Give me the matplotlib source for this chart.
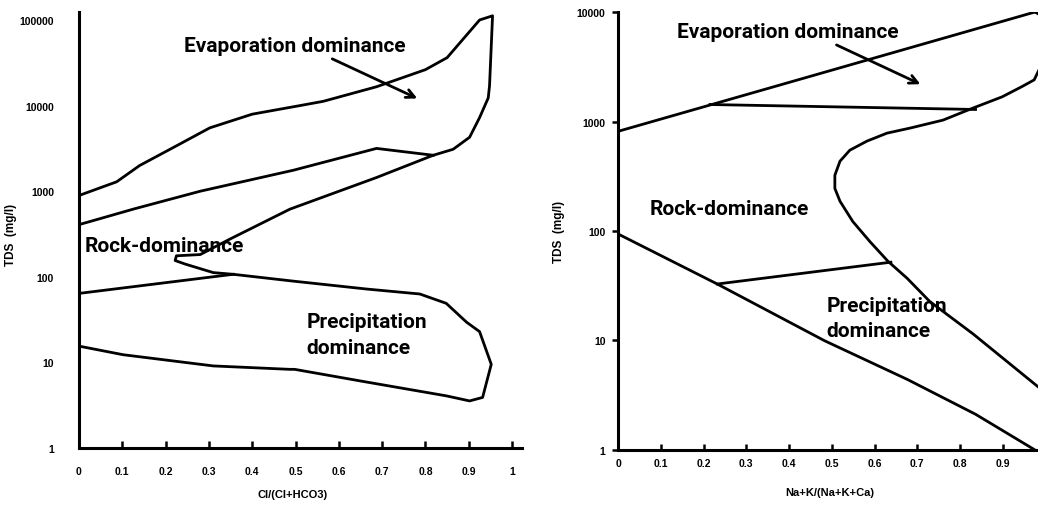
import matplotlib
matplotlib.use("Agg")
import matplotlib.pyplot as plt

plt.rcParams['font.family'] = ['Liberation Sans', 'DejaVu Sans']
plt.rcParams['font.weight'] = 'bold'

# ---------------------- Data: Cl/(Cl+HCO3) panel ----------------------
cl_outline_x = [0, 0.087, 0.14, 0.225, 0.302, 0.40, 0.51, 0.564, 0.687, 0.80, 0.85, 0.925, 0.955,
                0.948, 0.945, 0.925, 0.902, 0.864, 0.818, 0.687, 0.487, 0.348, 0.28, 0.225, 0.222,
                0.245, 0.31, 0.356, 0.495, 0.664, 0.787, 0.848, 0.895, 0.925, 0.952, 0.932, 0.902,
                0.848, 0.664, 0.498, 0.487, 0.31, 0.102, 0]
cl_outline_tds = [891, 1288, 1995, 3388, 5495, 7943, 10000, 11220, 16600, 26300, 36300, 100000, 112000,
                  17000, 12300, 7240, 4270, 3090, 2630, 1445, 617, 275, 182, 176, 155,
                  141, 112, 107, 89, 72, 63, 49, 29.5, 22.9, 9.5, 3.9, 3.55,
                  4.07, 5.9, 8.3, 8.3, 9.1, 12.3, 15.5]
cl_mid_x = [0, 0.056, 0.125, 0.28, 0.495, 0.687, 0.818]
cl_mid_tds = [407, 490, 617, 1000, 1758, 3162, 2630]
cl_low_x = [0, 0.356]
cl_low_tds = [64, 107]

# ---------------------- Data: Na+K/(Na+K+Ca) panel ----------------------
na_upper_x = [0, 0.975]
na_upper_tds = [813, 10000]
na_curve_x = [0.975, 0.985, 0.993, 0.995, 0.985, 0.973, 0.945, 0.898, 0.830, 0.760, 0.683, 0.629,
              0.582, 0.542, 0.519, 0.507, 0.507, 0.519, 0.549, 0.589, 0.631, 0.676, 0.729, 0.830,
              0.985, 1.0]
na_curve_tds = [10000, 9500, 7943, 5000, 3000, 2399, 2089, 1679, 1327, 1030, 871, 783,
                662, 547, 434, 323, 245, 187, 122, 80, 53, 37, 22.7, 11.5,
                3.7, 3.3]
na_hline_x = [0.215, 0.836]
na_hline_tds = [1429, 1288]
na_lower_x = [0, 0.232, 0.483, 0.677, 0.836, 0.975]
na_lower_tds = [94, 32.8, 9.95, 4.4, 2.12, 1.0]
na_low_hline_x = [0.232, 0.638]
na_low_hline_tds = [32.8, 51.9]

cl_xticks = [0, 0.1, 0.2, 0.3, 0.4, 0.5, 0.6, 0.7, 0.8, 0.9, 1]
cl_xtick_labels = ['0', '0.1', '0.2', '0.3', '0.4', '0.5', '0.6', '0.7', '0.8', '0.9', '1']
na_xticks = [0, 0.1, 0.2, 0.3, 0.4, 0.5, 0.6, 0.7, 0.8, 0.9]
na_xtick_labels = ['0', '0.1', '0.2', '0.3', '0.4', '0.5', '0.6', '0.7', '0.8', '0.9']
cl_yticks = [1, 10, 100, 1000, 10000, 100000]
cl_ytick_labels = ['1', '10', '100', '1000', '10000', '100000']
na_yticks = [1, 10, 100, 1000, 10000]
na_ytick_labels = ['1', '10', '100', '1000', '10000']

LW = 2.0
label_kw = dict(fontsize=15, fontweight='bold', color='black', family=['Roboto', 'DejaVu Sans'])


def style_axes(ax, xt, xl, yticks, ylabels, xlim, ylim):
    ax.set_yscale('log')
    ax.set_xlim(*xlim)
    ax.set_ylim(*ylim)
    ax.set_xticks(xt)
    ax.set_xticklabels(xl, fontsize=7.5, fontweight='bold')
    ax.set_yticks(yticks)
    ax.set_yticklabels(ylabels, fontsize=7.5, fontweight='bold')
    ax.minorticks_off()
    for s in ['top', 'right']:
        ax.spines[s].set_visible(False)
    for s in ['left', 'bottom']:
        ax.spines[s].set_linewidth(2.2)
    ax.patch.set_alpha(0)


fig = plt.figure(figsize=(10.38, 5.06), dpi=100)

# ---------------------- Left panel ----------------------
ax1 = fig.add_axes([0.0761, 0.1126, 0.4268, 0.8617])
ax1.plot(cl_outline_x, cl_outline_tds, color='black', lw=LW, solid_joinstyle='round')
ax1.plot(cl_mid_x, cl_mid_tds, color='black', lw=LW)
ax1.plot(cl_low_x, cl_low_tds, color='black', lw=LW)
style_axes(ax1, cl_xticks, cl_xtick_labels, cl_yticks, cl_ytick_labels, (0, 1.023), (1, 124000))
ax1.tick_params(axis='x', direction='in', length=5, width=1.8, pad=13)
ax1.tick_params(axis='y', length=0, pad=18)
ax1.set_xlabel('Cl/(Cl+HCO3)', fontsize=8, fontweight='bold')
ax1.xaxis.set_label_coords(0.483, -0.094)
ax1.set_ylabel('TDS  (mg/l)', fontsize=8.5, fontweight='bold')
ax1.yaxis.set_label_coords(-0.14, 0.49)
ax1.text(0.498, 10**4.70, 'Evaporation dominance', ha='center', va='center', **label_kw)
ax1.text(0.196, 10**2.37, 'Rock-dominance', ha='center', va='center', **label_kw)
ax1.text(0.525, 10**1.475, 'Precipitation', ha='left', va='center', **label_kw)
ax1.text(0.525, 10**1.175, 'dominance', ha='left', va='center', **label_kw)
ax1.annotate('', xy=(0.787, 10**4.07), xytext=(0.579, 10**4.56),
             arrowprops=dict(arrowstyle='->,head_length=0.6,head_width=0.3', lw=2.0, color='black'))

# ---------------------- Right panel ----------------------
ax2 = fig.add_axes([0.5954, 0.1087, 0.4046, 0.8656])
ax2.plot(na_upper_x, na_upper_tds, color='black', lw=LW)
ax2.plot(na_curve_x, na_curve_tds, color='black', lw=LW, solid_joinstyle='round')
ax2.plot(na_hline_x, na_hline_tds, color='black', lw=LW)
ax2.plot(na_lower_x, na_lower_tds, color='black', lw=LW)
ax2.plot(na_low_hline_x, na_low_hline_tds, color='black', lw=LW)
style_axes(ax2, na_xticks, na_xtick_labels, na_yticks, na_ytick_labels, (0, 0.982), (1, 10000))
ax2.tick_params(axis='x', direction='in', length=4, width=1.8, pad=6)
ax2.tick_params(axis='y', direction='out', length=4, width=1.8, pad=5)
ax2.set_xlabel('Na+K/(Na+K+Ca)', fontsize=8, fontweight='bold')
ax2.xaxis.set_label_coords(0.505, -0.084)
ax2.set_ylabel('TDS  (mg/l)', fontsize=8.5, fontweight='bold')
ax2.yaxis.set_label_coords(-0.126, 0.5)
ax2.text(0.397, 10**3.82, 'Evaporation dominance', ha='center', va='center', **label_kw)
ax2.text(0.261, 10**2.21, 'Rock-dominance', ha='center', va='center', **label_kw)
ax2.text(0.488, 10**1.324, 'Precipitation', ha='left', va='center', **label_kw)
ax2.text(0.488, 10**1.09, 'dominance', ha='left', va='center', **label_kw)
ax2.annotate('', xy=(0.713, 10**3.33), xytext=(0.505, 10**3.71),
             arrowprops=dict(arrowstyle='->,head_length=0.6,head_width=0.3', lw=2.0, color='black'))

fig.savefig('out.png', dpi=100, facecolor='white')
